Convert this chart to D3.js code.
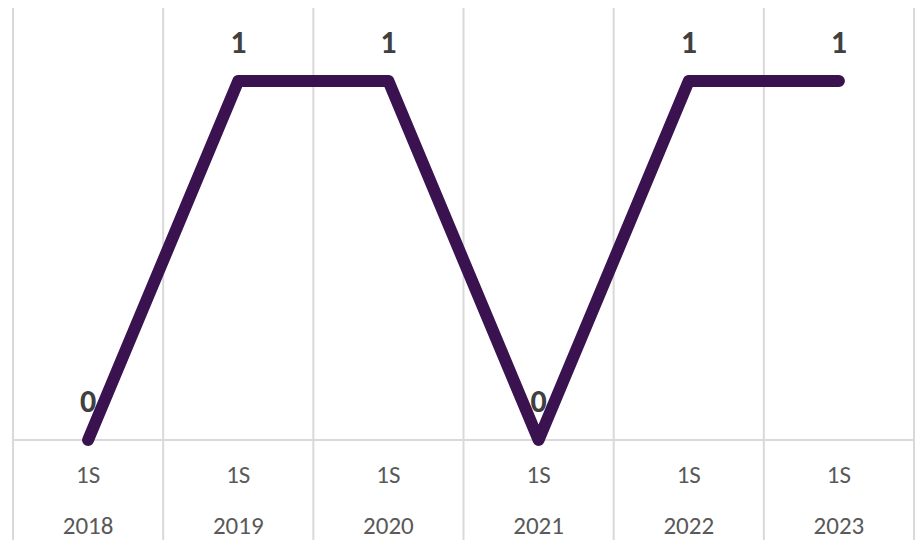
<!DOCTYPE html>
<html>
<head>
<meta charset="utf-8">
<script src="https://cdn.jsdelivr.net/npm/d3@7"></script>
<style>
  body { margin: 0; background: #fff; }
  svg { display: block; font-family: Carlito, Calibri, Lato, "Open Sans", sans-serif; }
</style>
</head>
<body>
<svg id="chart" width="922" height="540"></svg>
<script>
// données du graphique
var semestres = ["1S", "1S", "1S", "1S", "1S", "1S"];
var annees = ["2018", "2019", "2020", "2021", "2022", "2023"];
var valeurs = [0, 1, 1, 0, 1, 1];

var svg = d3.select("#chart");
var margin = {top: 8, left: 13, right: 8, bottom: 100};
var width = 922, height = 540;
var baseY = 440;

var xScale = d3.scaleBand().domain(annees).range([margin.left, width - margin.right]);
var yScale = d3.scaleLinear().domain([0, 1]).range([baseY, 81]);

// lignes verticales de la grille
var bornes = annees.map(function(d){ return xScale(d); }).concat([xScale.range()[1]]);
svg.append("g").selectAll("line")
	.data(bornes)
	.enter().append("line")
	.attr("x1", d => d).attr("x2", d => d)
	.attr("y1", margin.top).attr("y2", height)
	.attr("stroke", "#d9d9d9")
	.attr("stroke-width", 2);

// ligne de base
svg.append("line")
	.attr("x1", margin.left).attr("x2", xScale.range()[1])
	.attr("y1", baseY).attr("y2", baseY)
	.attr("stroke", "#d9d9d9")
	.attr("stroke-width", 2);

var cx = d => xScale(d) + xScale.bandwidth() / 2;

// la courbe
var line = d3.line()
	.x(function(d, i){ return cx(annees[i]); })
	.y(function(d){ return yScale(d); });

svg.append("path")
	.datum(valeurs)
	.attr("d", line)
	.attr("fill", "none")
	.attr("stroke", "#3b1250")
	.attr("stroke-width", 12)
	.attr("stroke-linejoin", "round")
	.attr("stroke-linecap", "round");

// étiquettes de données
svg.append("g").selectAll("text")
	.data(valeurs)
	.enter().append("text")
	.attr("x", (d, i) => cx(annees[i]))
	.attr("y", d => yScale(d) - 28)
	.attr("text-anchor", "middle")
	.attr("font-size", 32)
	.attr("font-weight", "bold")
	.attr("fill", "#404040")
	.text(d => d);

// libellés de l'axe
var labels = svg.append("g").selectAll("g")
	.data(annees)
	.enter().append("g");
labels.append("text")
	.attr("x", d => cx(d))
	.attr("y", 483)
	.attr("text-anchor", "middle")
	.attr("font-size", 25)
	.attr("fill", "#595959")
	.text((d, i) => semestres[i]);
labels.append("text")
	.attr("x", d => cx(d))
	.attr("y", 534)
	.attr("text-anchor", "middle")
	.attr("font-size", 25)
	.attr("fill", "#595959")
	.text(d => d);
</script>
</body>
</html>
